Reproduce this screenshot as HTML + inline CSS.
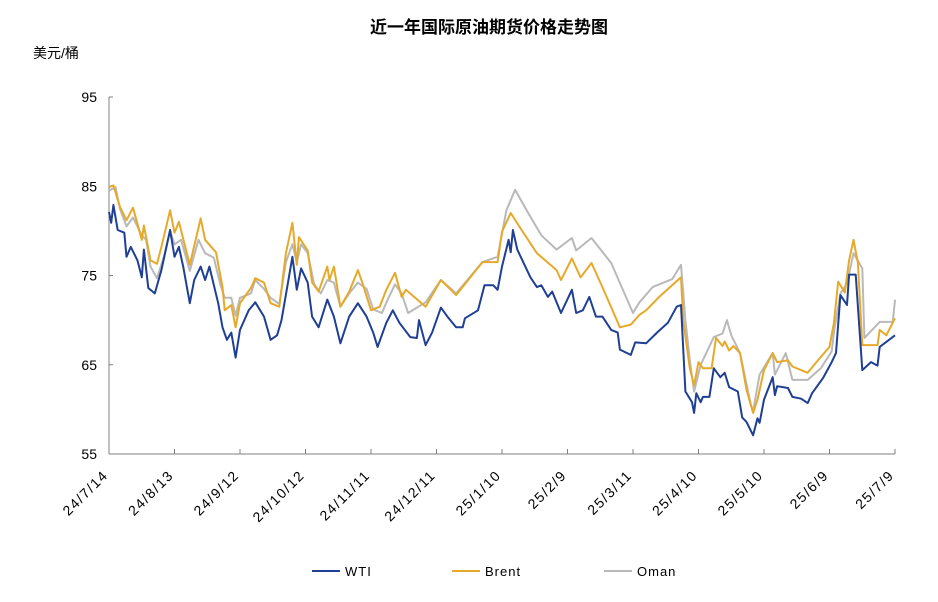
<!DOCTYPE html>
<html><head><meta charset="utf-8"><style>
body{margin:0;background:#fff;}
svg{display:block;font-family:"Liberation Sans","Noto Sans CJK SC",sans-serif;}
</style></head><body>
<svg id="chart" width="938" height="602">
<text x="489" y="33" text-anchor="middle" font-size="17" font-weight="bold" fill="#000">近一年国际原油期货价格走势图</text>
<text x="33" y="58" font-size="14" fill="#000">美元/桶</text>
<g id="axes"></g>
<g id="series"></g>
<g id="legend"></g>
</svg>
<script>
const yTicks=[55,65,75,85,95];
const xTickLabels=["24/7/14","24/8/13","24/9/12","24/10/12","24/11/11","24/12/11","25/1/10","25/2/9","25/3/11","25/4/10","25/5/10","25/6/9","25/7/9"];
const xTickDays=[0,30,60,90,120,150,180,210,240,270,300,330,360];
const seriesNames=["Oman","Brent","WTI"];
const wtiDays=[0,1,2,4,7,8,10,13,15,16,18,21,24,28,30,32,34,37,39,42,44,46,50,52,54,56,58,60,64,67,71,74,77,79,82,84,86,88,91,93,96,100,103,106,110,114,118,121,123,127,130,133,138,141,142,145,148,152,155,159,162,163,169,172,176,178,180,183,184,185,187,193,196,198,201,203,207,212,214,217,220,223,226,230,233,234,239,241,246,251,256,260,262,264,267,268,269,271,272,275,277,280,282,284,288,290,292,295,297,298,300,304,305,306,311,313,317,320,322,327,331,333,335,338,339,342,345,349,352,353,360];
const wtiVals=[82.1,80.9,82.9,80.1,79.8,77.1,78.2,76.7,74.8,77.9,73.6,73.0,75.6,80.1,77.1,78.2,76.0,71.9,74.5,76.0,74.5,76.0,71.9,69.2,67.8,68.6,65.8,68.9,71.1,72.0,70.4,67.8,68.3,70.0,74.2,77.1,73.4,75.8,74.2,70.4,69.2,72.3,70.4,67.4,70.4,71.9,70.4,68.6,67.0,69.7,71.1,69.7,68.1,68.0,70.0,67.2,68.6,71.4,70.4,69.2,69.2,70.2,71.1,73.9,73.9,73.4,76.0,79.0,77.6,80.1,77.9,74.8,73.7,73.9,72.6,73.2,70.8,73.4,70.8,71.1,72.6,70.4,70.4,68.9,68.6,66.7,66.1,67.5,67.4,68.6,69.7,71.5,71.7,62.0,60.8,59.6,61.8,60.8,61.4,61.4,64.6,63.6,64.1,62.5,62.0,59.1,58.6,57.1,59.0,58.5,61.1,63.6,61.6,62.6,62.4,61.4,61.2,60.7,61.8,63.5,65.3,66.3,72.8,71.7,75.1,75.1,64.4,65.3,64.9,67.0,68.3];
const brentDays=[0,2,5,8,11,15,16,19,22,24,28,30,32,37,42,44,49,52,53,56,58,60,65,67,71,74,78,81,84,86,87,91,93,96,100,101,103,106,110,114,116,120,124,127,131,134,136,145,152,159,171,178,180,184,189,196,205,207,212,216,221,226,234,239,243,246,252,262,263,266,268,270,272,276,278,281,282,284,286,289,292,295,297,300,304,306,311,313,320,324,330,332,334,337,339,341,343,345,352,353,356,360];
const brentVals=[84.9,85.1,82.7,81.2,82.6,79.0,80.6,76.7,76.3,78.2,82.3,79.8,81.0,76.2,81.4,79.0,77.6,73.7,71.1,71.7,69.2,71.9,73.6,74.7,74.2,71.9,71.5,77.5,80.9,76.2,79.3,77.8,74.2,73.2,76.0,74.5,76.0,71.5,73.2,75.6,74.2,71.1,71.5,73.4,75.3,72.6,73.4,71.5,74.5,72.8,76.5,76.5,79.9,82.0,80.1,77.5,75.6,74.5,76.9,74.8,76.4,73.7,69.2,69.5,70.6,71.1,72.6,74.8,70.0,64.6,62.7,65.3,64.6,64.6,68.0,67.1,67.6,66.6,67.1,66.3,62.2,59.6,61.1,64.4,66.3,65.3,65.5,64.8,64.1,65.3,67.0,69.7,74.3,73.1,76.7,79.0,76.4,67.2,67.2,68.9,68.3,70.2];
const omanDays=[0,3,5,8,11,15,17,19,22,25,28,30,33,37,41,44,48,51,53,56,58,60,65,67,71,74,78,81,84,86,88,91,94,97,100,103,106,110,114,118,121,125,128,131,134,137,145,152,159,171,178,182,186,192,198,205,212,214,221,230,240,243,249,258,262,264,266,268,271,277,281,283,285,289,294,295,298,304,305,310,313,320,326,331,332,335,338,341,345,346,353,359,360];
const omanVals=[84.5,84.9,82.5,80.5,81.5,79.5,79.0,76.0,74.7,77.0,80.0,78.5,79.0,75.5,79.0,77.5,77.0,74.0,72.5,72.5,70.5,72.5,73.0,74.5,73.5,72.5,71.8,76.5,78.5,76.5,78.5,77.5,74.0,73.0,74.5,74.2,71.5,73.0,74.2,73.5,71.2,70.8,72.5,74.0,73.0,70.8,72.0,74.5,73.0,76.5,77.1,82.3,84.6,82.0,79.5,77.9,79.2,77.8,79.2,76.4,70.8,72.0,73.7,74.6,76.2,70.0,65.5,62.0,65.0,68.1,68.5,70.0,68.3,66.3,60.5,59.8,63.9,66.3,63.9,66.3,63.3,63.3,64.6,66.5,68.6,73.0,74.1,77.5,75.8,68.0,69.8,69.8,72.3];

const NS="http://www.w3.org/2000/svg";
const X0=109,X1=895,Y0=454,Y1=97;
function xScale(d){return X0+(X1-X0)*d/360;}
function yScale(v){return Y0-(Y0-Y1)*(v-55)/40;}
function mk(tag,attrs,parent){const e=document.createElementNS(NS,tag);for(const k in attrs)e.setAttribute(k,attrs[k]);parent.appendChild(e);return e;}
const axes=document.getElementById('axes');
const yAxis=mk('line',{x1:X0,y1:Y1,x2:X0,y2:Y0,stroke:'#808080','stroke-width':1},axes);


const xAxis=mk('line',{x1:X0,y1:Y0,x2:X1,y2:Y0,stroke:'#808080','stroke-width':1},axes);


yTicks.forEach(v=>{
  const y=yScale(v);
  const t=mk('line',{x1:X0,y1:y,x2:X0+4,y2:y,stroke:'#808080'},axes);
  
  
  const l=mk('text',{x:97,y:y+5,'text-anchor':'end','font-size':14,fill:'#000'},axes);
  l.textContent=v;
  
  
});
xTickDays.forEach((d,i)=>{
  const x=xScale(d);
  const t=mk('line',{x1:x,y1:Y0-5,x2:x,y2:Y0,stroke:'#808080'},axes);
  
  
  const ax=x, ay=Y0+22;
  const l=mk('text',{x:ax,y:ay,'text-anchor':'end','font-size':14,'letter-spacing':1.5,fill:'#000',transform:`rotate(-45 ${ax} ${ay})`},axes);
  l.textContent=xTickLabels[i];
  
  
});
const colors={WTI:'#1f3f94',Brent:'#e6a92a',Oman:'#b9b9b9'};
const data={Oman:[omanDays,omanVals],Brent:[brentDays,brentVals],WTI:[wtiDays,wtiVals]};
const sg=document.getElementById('series');
seriesNames.forEach(n=>{
  const [ds,vs]=data[n];
  const pts=ds.map((d,i)=>xScale(d).toFixed(1)+','+yScale(vs[i]).toFixed(1)).join(' ');
  const p=mk('polyline',{points:pts,fill:'none',stroke:colors[n],'stroke-width':2,'stroke-linejoin':'round'},sg);
  
  
});
const lg=document.getElementById('legend');
const legendOrder=["WTI","Brent","Oman"];
const legendX=[312,452,604];
legendOrder.forEach((n,i)=>{
  const g=mk('g',{},lg);
  
  
  mk('line',{x1:legendX[i],y1:571,x2:legendX[i]+28,y2:571,stroke:colors[n],'stroke-width':2},g);
  const t=mk('text',{x:legendX[i]+33,y:576,'font-size':13,'letter-spacing':1,fill:'#000'},g);
  t.textContent=n;
});
</script>
</body></html>
